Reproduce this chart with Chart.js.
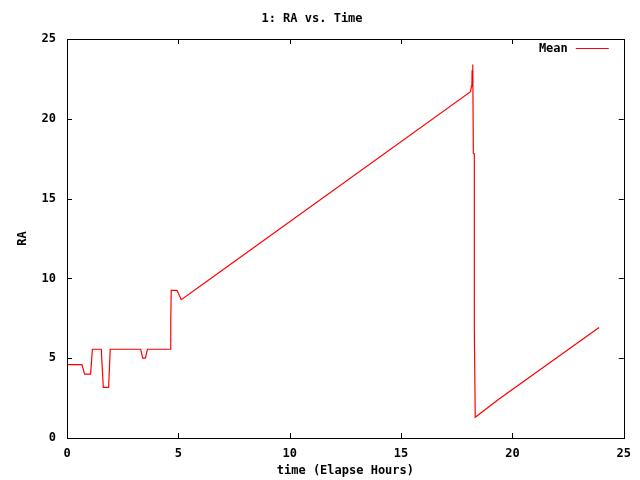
<!DOCTYPE html>
<html>
<head>
<meta charset="utf-8">
<title>1: RA vs. Time</title>
<script src="https://cdn.jsdelivr.net/npm/chart.js@4.4.0/dist/chart.umd.min.js"></script>
<style>
  html, body { margin: 0; padding: 0; background: #fff; }
  canvas { display: block; }
</style>
</head>
<body>
<canvas id="raChart" width="640" height="480"></canvas>
<script>
// values
const timeHours = [0.00, 0.67, 0.79, 1.06, 1.14, 1.54, 1.63, 1.87, 1.94, 3.31,
                   3.40, 3.52, 3.61, 4.65, 4.66, 4.68, 4.94, 5.13, 5.94, 18.12,
                   18.16, 18.18, 18.19, 18.22, 18.245, 18.29, 18.29, 18.33, 19.40, 23.89];
const raMean    = [4.60, 4.60, 4.00, 4.00, 5.56, 5.56, 3.17, 3.17, 5.56, 5.56,
                   5.00, 5.00, 5.56, 5.56, 7.40, 9.25, 9.25, 8.67, 9.48, 21.70,
                   22.05, 22.10, 23.00, 23.40, 17.84, 17.80, 6.85, 1.30, 2.44, 6.93];
const xTicks = [0, 5, 10, 15, 20, 25];
const yTicks = [0, 5, 10, 15, 20, 25];

const FONT = "'DejaVu Sans Mono', 'Liberation Mono', monospace";
const TIC = 5;

const points = timeHours.map((t, i) => ({ x: t, y: raMean[i] }));

// frame, inward tics on all four sides, and the key inside the plot
const gnuplotFrame = {
  id: "gnuplotFrame",
  afterDraw(chart) {
    const ctx = chart.ctx;
    const a = chart.chartArea;
    const xs = chart.scales.x;
    const ys = chart.scales.y;
    ctx.save();
    ctx.strokeStyle = "#000";
    ctx.lineWidth = 1;
    ctx.beginPath();
    xTicks.forEach((v) => {
      const px = Math.round(xs.getPixelForValue(v)) + 0.5;
      ctx.moveTo(px, a.bottom); ctx.lineTo(px, a.bottom - TIC);
      ctx.moveTo(px, a.top); ctx.lineTo(px, a.top + TIC);
    });
    yTicks.forEach((v) => {
      const py = Math.round(ys.getPixelForValue(v)) + 0.5;
      ctx.moveTo(a.left, py); ctx.lineTo(a.left + TIC, py);
      ctx.moveTo(a.right, py); ctx.lineTo(a.right - TIC, py);
    });
    ctx.stroke();
    ctx.strokeRect(Math.round(a.left) + 0.5, Math.round(a.top) + 0.5,
                   Math.round(a.right - a.left), Math.round(a.bottom - a.top));

    // key
    const ds = chart.data.datasets[0];
    ctx.font = "bold 12px " + FONT;
    ctx.fillStyle = "#000";
    ctx.textAlign = "right";
    ctx.textBaseline = "middle";
    ctx.fillText(ds.label, a.right - 56, a.top + 10);
    ctx.strokeStyle = ds.borderColor;
    ctx.beginPath();
    ctx.moveTo(a.right - 48, a.top + 9.5);
    ctx.lineTo(a.right - 15, a.top + 9.5);
    ctx.stroke();
    ctx.restore();
  }
};

new Chart(document.getElementById("raChart"), {
  type: "line",
  data: {
    datasets: [{
      label: "Mean",
      data: points,
      borderColor: "#ff0000",
      borderWidth: 1.2,
      pointRadius: 0,
      tension: 0,
      fill: false
    }]
  },
  options: {
    responsive: false,
    animation: false,
    devicePixelRatio: 1,
    layout: { padding: { left: 0, right: 16, top: 0, bottom: 0 } },
    plugins: {
      legend: { display: false },
      tooltip: { enabled: false },
      title: {
        display: true,
        text: "1: RA vs. Time",
        color: "#000",
        font: { family: FONT, size: 12, weight: "bold" },
        padding: { top: 12, bottom: 12.6 }
      }
    },
    scales: {
      x: {
        type: "linear",
        min: 0,
        max: 25,
        afterBuildTicks: (s) => { s.ticks = xTicks.map((v) => ({ value: v })); },
        afterFit: (s) => { s.height = 42; },
        grid: { display: false, drawTicks: false, tickLength: 0 },
        border: { display: false },
        ticks: {
          color: "#000",
          padding: 9,
          maxRotation: 0,
          font: { family: FONT, size: 12, weight: "bold" }
        },
        title: {
          display: true,
          text: "time (Elapse Hours)",
          color: "#000",
          font: { family: FONT, size: 12, weight: "bold" },
          padding: { top: 0, bottom: 1.5 }
        }
      },
      y: {
        type: "linear",
        min: 0,
        max: 25,
        afterBuildTicks: (s) => { s.ticks = yTicks.map((v) => ({ value: v })); },
        afterFit: (s) => { s.width = 67; },
        grid: { display: false, drawTicks: false, tickLength: 0 },
        border: { display: false },
        ticks: {
          color: "#000",
          padding: 11,
          font: { family: FONT, size: 12, weight: "bold" }
        },
        title: {
          display: true,
          text: "RA",
          color: "#000",
          font: { family: FONT, size: 12, weight: "bold" },
          padding: { top: 16, bottom: 0 }
        }
      }
    }
  },
  plugins: [gnuplotFrame]
});
</script>
</body>
</html>
